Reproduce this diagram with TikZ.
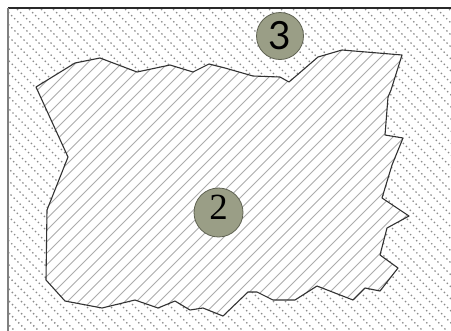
\documentclass[tikz,border=0pt]{standalone}
\usepackage{fontspec}
\newfontfamily\sansdigit{Lato}
\newfontfamily\serifdigit{Liberation Serif}
\definecolor{badgefill}{RGB}{154,158,134}
\definecolor{badgeline}{RGB}{95,98,82}
\definecolor{edgedark}{RGB}{50,50,50}
\definecolor{framedark}{RGB}{40,40,40}
\tikzset{
  badge/.style={circle, draw=badgeline, fill=badgefill, line width=0.8bp, inner sep=0pt},
  dothatch/.style={gray!90, line width=1.4bp, dash pattern=on 1.4bp off 2.9bp},
  solidhatch/.style={gray!65, line width=0.9bp},
  blobedge/.style={draw=edgedark, line width=1.1bp, line join=round}
}
\begin{document}
\begin{tikzpicture}[x=1bp,y=-1bp]
\useasboundingbox (0,0) rectangle (451,330);
\clip (0,0) rectangle (451,330);
\fill[white] (0,0) rectangle (451,330);
% outer dotted hatching
\begin{scope}
  \clip (8,8) rectangle (460,340);
  \foreach \k in {-340,-328,...,460} \draw[dothatch] (\k,0) -- ++(420,420);
\end{scope}
% inner region
\begin{scope}
  \clip (36,87) -- (75,63) -- (100,58) -- (137,72) -- (170,65) -- (193,72) -- (209,64) -- (225,68)
   -- (253,76) -- (280,77) -- (289,82) -- (318,57) -- (342,50) -- (402,55) -- (391,90) -- (388,97)
   -- (385,135) -- (403,138) -- (392,165) -- (382,198) -- (409,216) -- (387,228) -- (380,255)
   -- (398,268) -- (380,291) -- (365,288) -- (353,300) -- (317,286) -- (295,300) -- (273,300)
   -- (257,292) -- (248,292) -- (223,316) -- (203,308) -- (190,310) -- (175,301) -- (158,308)
   -- (135,300) -- (102,308) -- (65,301) -- (46,280) -- (47,210) -- (68,157) -- cycle;
  \fill[white] (0,0) rectangle (451,330);
  \foreach \k in {70,81.5,...,760} \draw[solidhatch] (\k,0) -- ++(-420,420);
\end{scope}
\path[blobedge] (36,87) -- (75,63) -- (100,58) -- (137,72) -- (170,65) -- (193,72) -- (209,64) -- (225,68)
   -- (253,76) -- (280,77) -- (289,82) -- (318,57) -- (342,50) -- (402,55) -- (391,90) -- (388,97)
   -- (385,135) -- (403,138) -- (392,165) -- (382,198) -- (409,216) -- (387,228) -- (380,255)
   -- (398,268) -- (380,291) -- (365,288) -- (353,300) -- (317,286) -- (295,300) -- (273,300)
   -- (257,292) -- (248,292) -- (223,316) -- (203,308) -- (190,310) -- (175,301) -- (158,308)
   -- (135,300) -- (102,308) -- (65,301) -- (46,280) -- (47,210) -- (68,157) -- cycle;
% frame
\draw[framedark, line width=1.5bp] (8,8) -- (452,8);
\draw[gray, line width=1.5bp] (8,8) -- (8,331);
% badges
\node[badge, minimum size=47bp, font=\sansdigit\fontsize{39}{39}\selectfont] (three) at (280,36) {3};
\node[badge, minimum size=49bp, text height=25bp, text depth=12bp, font=\serifdigit\fontsize{37}{37}\selectfont] (two) at (218.5,212.5) {2};
\end{tikzpicture}
\end{document}
